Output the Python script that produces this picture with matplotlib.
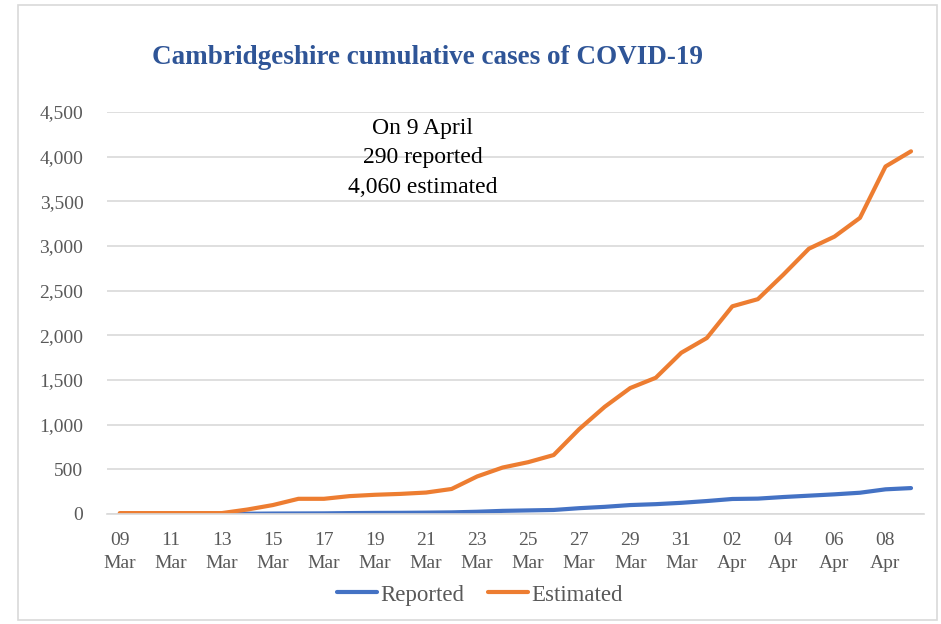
import numpy as np
import matplotlib.pyplot as plt
from matplotlib.patches import Rectangle

# dates 09 Mar .. 09 Apr
days = ['09 Mar', '10 Mar', '11 Mar', '12 Mar', '13 Mar', '14 Mar', '15 Mar', '16 Mar',
        '17 Mar', '18 Mar', '19 Mar', '20 Mar', '21 Mar', '22 Mar', '23 Mar', '24 Mar',
        '25 Mar', '26 Mar', '27 Mar', '28 Mar', '29 Mar', '30 Mar', '31 Mar', '01 Apr',
        '02 Apr', '03 Apr', '04 Apr', '05 Apr', '06 Apr', '07 Apr', '08 Apr', '09 Apr']

reported = [0, 0, 0, 0, 1, 3, 5, 6, 7, 10, 12, 13, 15, 18, 25, 35,
            40, 45, 65, 80, 100, 110, 125, 145, 168, 172, 190, 205, 220, 238, 276, 290]
estimated = [10, 10, 10, 10, 10, 50, 100, 170, 170, 200, 215, 225, 240, 280, 420, 520,
             580, 660, 950, 1200, 1410, 1525, 1805, 1970, 2325, 2405, 2680, 2970, 3105, 3315, 3890, 4060]

plt.rcParams['font.family'] = ['Liberation Serif', 'DejaVu Serif']

fig = plt.figure(figsize=(9.41, 6.24), dpi=100)
# chart border
fig.patches.append(Rectangle((0.019, 0.006), 0.977, 0.986, transform=fig.transFigure,
                             fill=False, edgecolor='#D9D9D9', linewidth=1.2))
ax = fig.add_axes([0.1137, 0.1763, 0.868, 0.6442])

x = np.arange(len(days))
ax.plot(x, reported, color='#4472C4', linewidth=3, label='Reported', solid_capstyle='round')
ax.plot(x, estimated, color='#ED7D31', linewidth=3, label='Estimated', solid_capstyle='round')

ax.set_xlim(-0.5, len(days) - 0.5)
ax.set_ylim(0, 4500)
ax.set_yticks(np.arange(0, 4501, 500))
ax.set_yticklabels([f'{v:,}' for v in range(0, 4501, 500)])
ax.set_xticks(x[::2])
ax.set_xticklabels([d.replace(' ', '\n') for d in days[::2]], linespacing=1.45)
ax.tick_params(axis='both', length=0, labelsize=14, labelcolor='#595959')
ax.tick_params(axis='x', pad=13)
ax.tick_params(axis='y', pad=17)
ax.grid(axis='y', color='#D9D9D9', linewidth=1.2)
ax.set_axisbelow(True)
for s in ['top', 'right', 'left']:
    ax.spines[s].set_visible(False)
ax.spines['bottom'].set_color('#D9D9D9')
ax.spines['bottom'].set_linewidth(1.2)

fig.text(0.1615, 0.908, 'Cambridgeshire cumulative cases of COVID-19', fontsize=19.5,
         fontweight='bold', color='#2F5597', ha='left', va='center')
fig.text(0.449, 0.747, 'On 9 April\n290 reported\n4,060 estimated', fontsize=17,
         ha='center', va='center', linespacing=1.55, color='black')

fig.legend(loc='center', bbox_to_anchor=(0.51, 0.0465), ncol=2, frameon=False,
           fontsize=16.5, handlelength=1.75, handletextpad=0.15, columnspacing=1.0,
           labelcolor='#595959')

plt.savefig('out.png', dpi=100)
